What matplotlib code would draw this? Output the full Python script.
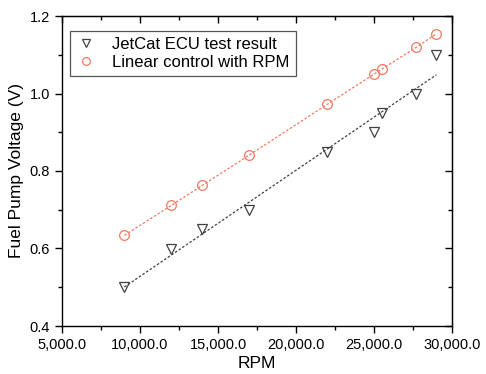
import numpy as np
import matplotlib.pyplot as plt
from matplotlib.ticker import FuncFormatter, MultipleLocator

plt.rcParams['font.family'] = ['Liberation Sans', 'DejaVu Sans']

rpm = [9000, 12000, 14000, 17000, 22000, 25000, 25500, 27700, 29000]
jetcat_v = [0.50, 0.60, 0.65, 0.70, 0.85, 0.90, 0.95, 1.00, 1.10]
linear_v = [0.634, 0.711, 0.763, 0.841, 0.972, 1.050, 1.063, 1.119, 1.154]

fig = plt.figure(figsize=(4.86, 3.74), dpi=100)
ax = fig.add_axes([62 / 486, 48 / 374, 390 / 486, 310 / 374])

red = '#f07a60'
grey = '#404040'

# linear fit of the ECU data
k, b = np.polyfit(rpm, jetcat_v, 1)
xf = np.array([rpm[0], rpm[-1]])
ax.plot(xf, k * xf + b, ls=(0, (2, 1.5)), color=grey, lw=0.9)
ax.plot(rpm, linear_v, ls=(0, (2, 1.5)), color=red, lw=0.9)

ax.plot(rpm, jetcat_v, 'v', ms=7, mfc='none', mec=grey, mew=0.9, ls='none',
        label='JetCat ECU test result')
ax.plot(rpm, linear_v, 'o', ms=7, mfc='none', mec=red, mew=0.9, ls='none',
        label='Linear control with RPM')

ax.set_xlim(5000, 30000)
ax.set_ylim(0.4, 1.2)
ax.xaxis.set_major_locator(MultipleLocator(5000))
ax.xaxis.set_minor_locator(MultipleLocator(2500))
ax.yaxis.set_major_locator(MultipleLocator(0.2))
ax.yaxis.set_minor_locator(MultipleLocator(0.1))
ax.xaxis.set_major_formatter(FuncFormatter(lambda v, p: f'{v:,.1f}'))
ax.yaxis.set_major_formatter(FuncFormatter(lambda v, p: f'{v:.1f}'))

ax.tick_params(which='both', direction='out', top=False, right=False, labelsize=10.5, width=1)
ax.tick_params(which='major', length=5)
ax.tick_params(which='minor', length=3)
ax2 = ax.secondary_xaxis('top')
ax2.xaxis.set_major_locator(MultipleLocator(5000))
ax2.xaxis.set_minor_locator(MultipleLocator(2500))
ax2.tick_params(which='both', direction='in', labeltop=False, width=1)
ax2.tick_params(which='major', length=5)
ax2.tick_params(which='minor', length=3)
ax3 = ax.secondary_yaxis('right')
ax3.yaxis.set_major_locator(MultipleLocator(0.2))
ax3.yaxis.set_minor_locator(MultipleLocator(0.1))
ax3.tick_params(which='both', direction='in', labelright=False, width=1)
ax3.tick_params(which='major', length=5)
ax3.tick_params(which='minor', length=3)
for s in ax.spines.values():
    s.set_linewidth(1)

ax.set_xlabel('RPM', fontsize=12.5, labelpad=3)
ax.set_ylabel('Fuel Pump Voltage (V)', fontsize=12.5)

leg = ax.legend(loc='upper left', bbox_to_anchor=(0.02, 0.952), borderaxespad=0,
                fontsize=12, fancybox=False, edgecolor='#555555', handlelength=1.2,
                handletextpad=1.0, borderpad=0.35, labelspacing=0.2, framealpha=1,
                markerscale=0.8)
leg.get_frame().set_linewidth(0.9)

fig.savefig('out.png', dpi=100)
